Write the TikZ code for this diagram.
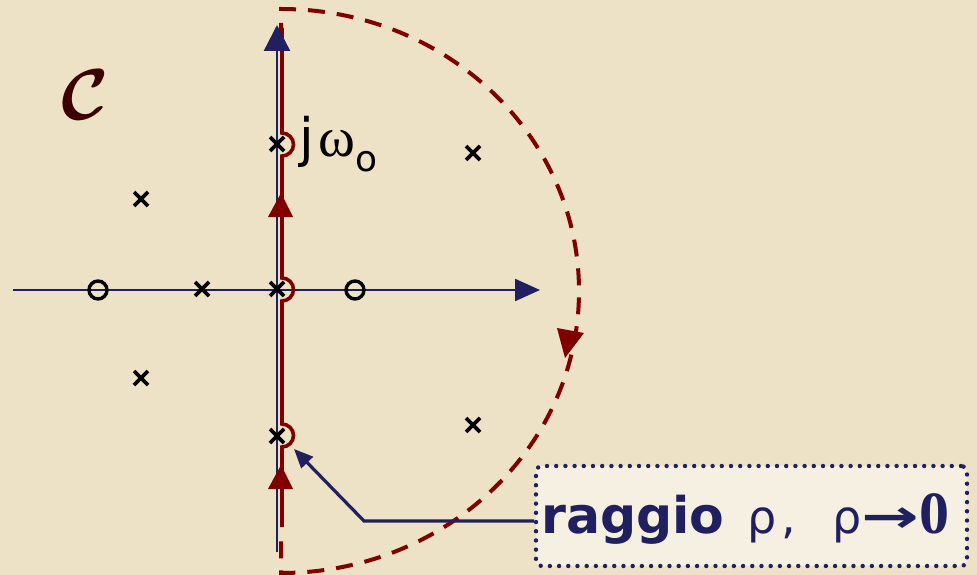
\documentclass[tikz,border=0pt]{standalone}
\usepackage{bm}
\usepackage{graphicx}
\usepackage{fontspec}
\usetikzlibrary{arrows.meta}
\newfontfamily\dvs{DejaVu Sans}
\newfontfamily\lser{Liberation Serif}
\definecolor{bgc}{RGB}{237,225,198}
\definecolor{navy}{RGB}{32,32,96}
\definecolor{dred}{RGB}{128,0,0}
\definecolor{boxc}{RGB}{245,240,226}
\definecolor{cbrown}{RGB}{60,0,0}
\newcommand\bigC{\scalebox{7.2}{$\bm{\mathcal{C}}$}}
\tikzset{
  axisln/.style={navy, line width=2.3pt},
  contour/.style={dred, line width=3.6pt},
  dashc/.style={dred, line width=4pt, dash pattern=on 17pt off 12pt},
  pics/polex/.style={code={\draw[black, line width=3.8pt] (-7pt,-7pt) -- (7pt,7pt) (-7pt,7pt) -- (7pt,-7pt);}},
  pics/zeroo/.style={code={\draw[black, line width=3.4pt] (0,0) circle[radius=9pt];}},
  notebox/.style={draw=navy, line width=4.4pt, line cap=round, dash pattern=on 0pt off 9.2pt, fill=boxc, rounded corners=6pt, minimum width=431pt, minimum height=100pt, inner sep=0pt, text=navy},
}
\begin{document}
\begin{tikzpicture}[x=1pt,y=-1pt]
\fill[bgc] (0,0) rectangle (977,575);
\useasboundingbox (0,0) rectangle (977,575);
% dashed large semicircle
\draw[dashc] (281,40) -- (281,9) arc[start angle=90, end angle=-90, x radius=298pt, y radius=282pt] -- (281,530);
% arrow on arc
\fill[dred] (565,358) -- (584,333) -- (557,328) -- cycle;
% axes
\draw[axisln, -{Triangle[length=25pt,width=22pt]}] (13,290) -- (540,290);
% red contour
\draw[contour] (282,527) -- (282,447) arc[start angle=-90, end angle=90, radius=11.5pt]
  -- (282,301) arc[start angle=-90, end angle=90, radius=11.5pt]
  -- (282,156) arc[start angle=-90, end angle=90, radius=11.5pt] -- (282,28);
\draw[axisln, -{Triangle[length=26pt,width=26pt]}] (277,552) -- (277,25);
% red arrowheads on the imaginary axis
\fill[dred] (281,193) -- (293,217) -- (268,217) -- cycle;
\fill[dred] (281,465) -- (293,489) -- (268,489) -- cycle;
% poles and zeros
\path (141,199) pic {polex};
\path (202,289) pic {polex};
\path (277,289) pic {polex};
\path (277,144) pic {polex};
\path (473,153) pic {polex};
\path (141,378) pic {polex};
\path (277,436) pic {polex};
\path (473,425) pic {polex};
\path (98,290) pic {zeroo};
\path (355,290) pic {zeroo};
% labels
\node[anchor=base west, inner sep=0pt, text=cbrown] (calC) at (61,120) {\bigC};
\node[anchor=base west, inner sep=0pt] (jw) at (299,157) {{\dvs\fontsize{53pt}{53pt}\selectfont j}\hspace{5pt}{\lser\fontsize{56pt}{56pt}\selectfont ω}\raisebox{-15pt}{\dvs\fontsize{36pt}{36pt}\selectfont o}};
% note box
\node[notebox] (box) at (751.5,516) {};
\node[anchor=base west, inner sep=0pt, text=navy] (txt) at (541,533) {{\dvs\bfseries\fontsize{50.5pt}{51pt}\selectfont raggio}\hspace{23pt}{\dvs\fontsize{46pt}{46pt}\selectfont ρ\hspace{5pt},\hspace{36pt}ρ\raisebox{1pt}{\bfseries\scalebox{1.5}[1]{→}}}{\lser\bfseries\fontsize{60pt}{60pt}\selectfont 0}};
\coordinate (knee) at (364,521);
\coordinate (tip) at (294,449);
\draw[navy, line width=3.2pt, -{Triangle[length=19pt,width=16pt]}] ([yshift=-5pt]box.west) -- (knee) -- (tip);
\end{tikzpicture}
\end{document}
